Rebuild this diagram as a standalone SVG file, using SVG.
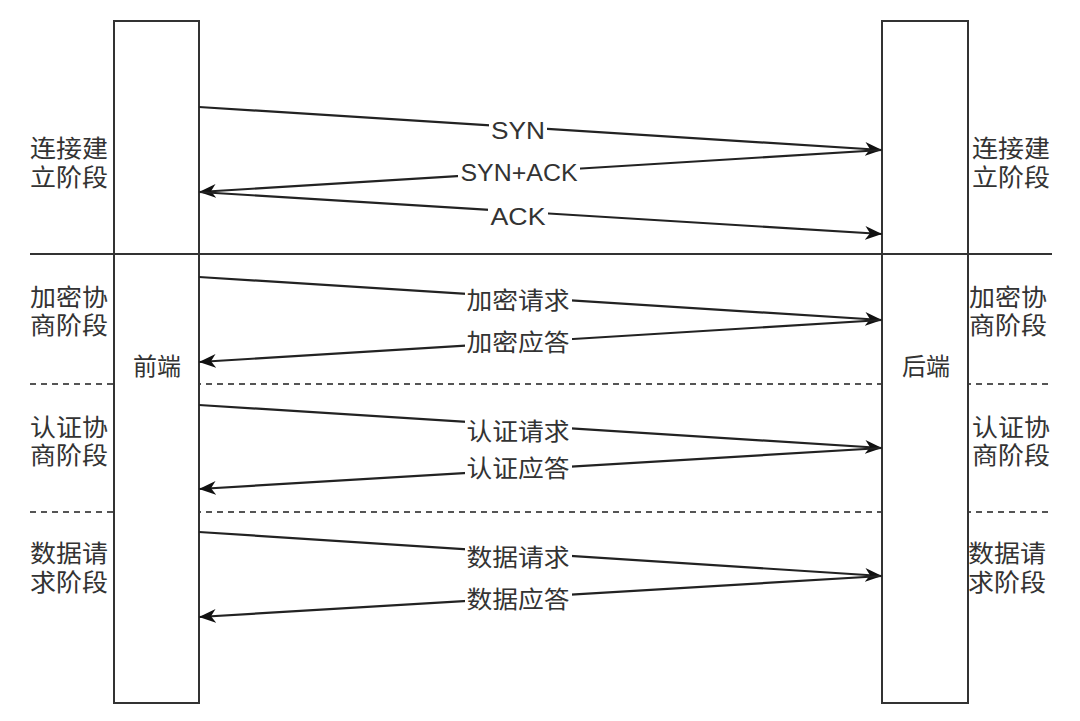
<svg xmlns="http://www.w3.org/2000/svg" width="1080" height="721" viewBox="0 0 1080 721">
<style>
.box{fill:#fff;stroke:#333;stroke-width:2}
.sep{stroke:#333;stroke-width:2}
.dash{stroke:#555;stroke-width:2;stroke-dasharray:6 5}
.msg{stroke:#222;stroke-width:2.2;fill:none;marker-end:url(#ah)}
.t{font-family:"Liberation Sans","Noto Sans CJK SC",sans-serif;font-size:24px;fill:#333}
.c{text-anchor:middle;dominant-baseline:central}
.bg{fill:#fff}
</style>
<defs>
<marker id="ah" markerUnits="userSpaceOnUse" markerWidth="18" markerHeight="16" refX="17" refY="8" orient="auto">
<path d="M0,1 L17,8 L0,15 L5,8 z" fill="#111"/>
</marker>
</defs>
<g id="dividers">
<line class="dash" x1="30" y1="384" x2="1052" y2="384"/>
<line class="dash" x1="30" y1="512" x2="1052" y2="512"/>
</g>
<g id="frontend">
<rect class="box" x="114" y="21" width="85" height="682"/>
<text class="t c" x="157" y="366">前端</text>
</g>
<g id="backend">
<rect class="box" x="882" y="21" width="86" height="682"/>
<text class="t c" x="926" y="366">后端</text>
</g>
<g id="separator">
<line class="sep" x1="30" y1="254" x2="1052" y2="254"/>
</g>
<g id="phase-labels">
<text class="t" x="30" y="157" textLength="78" lengthAdjust="spacingAndGlyphs">连接建</text>
<text class="t" x="30" y="186" textLength="78" lengthAdjust="spacingAndGlyphs">立阶段</text>
<text class="t" x="30" y="306" textLength="78" lengthAdjust="spacingAndGlyphs">加密协</text>
<text class="t" x="30" y="334" textLength="78" lengthAdjust="spacingAndGlyphs">商阶段</text>
<text class="t" x="30" y="436" textLength="78" lengthAdjust="spacingAndGlyphs">认证协</text>
<text class="t" x="30" y="464" textLength="78" lengthAdjust="spacingAndGlyphs">商阶段</text>
<text class="t" x="30" y="562" textLength="78" lengthAdjust="spacingAndGlyphs">数据请</text>
<text class="t" x="30" y="591" textLength="78" lengthAdjust="spacingAndGlyphs">求阶段</text>
<text class="t" x="972" y="157" textLength="78" lengthAdjust="spacingAndGlyphs">连接建</text>
<text class="t" x="972" y="186" textLength="78" lengthAdjust="spacingAndGlyphs">立阶段</text>
<text class="t" x="969" y="306" textLength="78" lengthAdjust="spacingAndGlyphs">加密协</text>
<text class="t" x="969" y="334" textLength="78" lengthAdjust="spacingAndGlyphs">商阶段</text>
<text class="t" x="972" y="436" textLength="78" lengthAdjust="spacingAndGlyphs">认证协</text>
<text class="t" x="972" y="464" textLength="78" lengthAdjust="spacingAndGlyphs">商阶段</text>
<text class="t" x="968" y="562" textLength="78" lengthAdjust="spacingAndGlyphs">数据请</text>
<text class="t" x="968" y="591" textLength="78" lengthAdjust="spacingAndGlyphs">求阶段</text>
</g>
<g id="connectors">
<line class="msg" x1="199" y1="107" x2="882" y2="150"/>
<line class="msg" x1="882" y1="150" x2="199" y2="192"/>
<line class="msg" x1="199" y1="192" x2="882" y2="234"/>
<line class="msg" x1="199" y1="277" x2="882" y2="320"/>
<line class="msg" x1="882" y1="320" x2="199" y2="362"/>
<line class="msg" x1="199" y1="405" x2="882" y2="448"/>
<line class="msg" x1="882" y1="448" x2="199" y2="489"/>
<line class="msg" x1="199" y1="532" x2="882" y2="576"/>
<line class="msg" x1="882" y1="576" x2="199" y2="617"/>
<rect class="bg" x="489" y="117" width="58" height="26"/>
<text class="t c" x="518" y="130" textLength="54" lengthAdjust="spacingAndGlyphs">SYN</text>
<rect class="bg" x="458" y="159" width="122" height="26"/>
<text class="t c" x="519" y="172" textLength="117" lengthAdjust="spacingAndGlyphs">SYN+ACK</text>
<rect class="bg" x="488" y="203" width="60" height="26"/>
<text class="t c" x="518" y="216" textLength="55" lengthAdjust="spacingAndGlyphs">ACK</text>
<rect class="bg" x="465" y="287" width="107" height="26"/>
<text class="t c" x="518" y="300" textLength="103" lengthAdjust="spacingAndGlyphs">加密请求</text>
<rect class="bg" x="465" y="329" width="107" height="26"/>
<text class="t c" x="518" y="342" textLength="103" lengthAdjust="spacingAndGlyphs">加密应答</text>
<rect class="bg" x="465" y="418" width="107" height="26"/>
<text class="t c" x="518" y="431" textLength="103" lengthAdjust="spacingAndGlyphs">认证请求</text>
<rect class="bg" x="465" y="455" width="107" height="26"/>
<text class="t c" x="518" y="468" textLength="103" lengthAdjust="spacingAndGlyphs">认证应答</text>
<rect class="bg" x="465" y="544" width="107" height="26"/>
<text class="t c" x="518" y="557" textLength="103" lengthAdjust="spacingAndGlyphs">数据请求</text>
<rect class="bg" x="465" y="586" width="107" height="26"/>
<text class="t c" x="518" y="599" textLength="103" lengthAdjust="spacingAndGlyphs">数据应答</text>
</g>
</svg>
